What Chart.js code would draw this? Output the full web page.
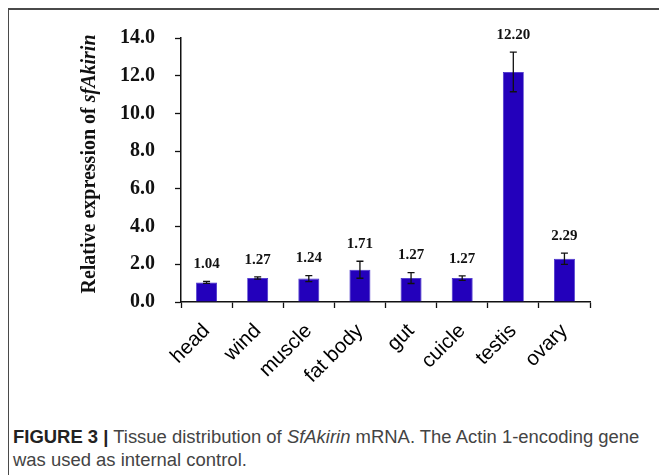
<!DOCTYPE html>
<html>
<head>
<meta charset="utf-8">
<script src="https://cdn.jsdelivr.net/npm/chart.js@4.4.1/dist/chart.umd.min.js"></script>
<style>
  html, body { margin: 0; padding: 0; background: #ffffff; }
  body { width: 659px; height: 475px; position: relative; overflow: hidden; }
  #frame {
    position: absolute; left: 8px; top: 8px; width: 660px; height: 480px;
    border-top: 2px solid #4a4a4a; border-left: 1.5px solid #4a4a4a;
    box-sizing: border-box;
  }
  #plot { position: absolute; left: 0; top: 0; width: 659px; height: 415px; }
  #caption {
    position: absolute; left: 13px; top: 425px;
    font-family: "Liberation Sans", Arial, sans-serif; font-size: 16px;
    line-height: 23px; color: #444; white-space: nowrap;
  }
  #caption b { color: #222; }
</style>
</head>
<body>
<div id="frame"></div>
<div id="plot"><canvas id="chart" width="659" height="415"></canvas></div>
<div id="caption"><span id="line1"><b>FIGURE 3 |</b> Tissue distribution of <i>SfAkirin</i> mRNA. The Actin 1-encoding gene</span><br>was used as internal control.</div>
<script>
// Tissues sampled
const categories = ['head', 'wind', 'muscle', 'fat body', 'gut', 'cuicle', 'testis', 'ovary'];
// Mean relative expression of sfAkirin per tissue
const expression = [1.04, 1.27, 1.24, 1.71, 1.27, 1.27, 12.20, 2.29];
// Standard error for each tissue
const errors = [0.05, 0.06, 0.16, 0.45, 0.29, 0.12, 1.05, 0.30];
// Y-axis tick values
const yTicks = [0, 2, 4, 6, 8, 10, 12, 14];

const serif = '"Liberation Serif", "Times New Roman", serif';

// Error bars and value labels above each bar
const errorBarPlugin = {
  id: 'errorBars',
  afterDatasetsDraw(chart) {
    const ctx = chart.ctx;
    const y = chart.scales.y;
    const meta = chart.getDatasetMeta(0);
    ctx.save();
    ctx.strokeStyle = '#111';
    ctx.lineWidth = 1.3;
    meta.data.forEach((bar, i) => {
      const v = expression[i], e = errors[i];
      const top = y.getPixelForValue(v + e);
      const bot = y.getPixelForValue(v - e);
      const cap = 3.5;
      ctx.beginPath();
      ctx.moveTo(bar.x, top); ctx.lineTo(bar.x, bot);
      ctx.moveTo(bar.x - cap, top); ctx.lineTo(bar.x + cap, top);
      ctx.moveTo(bar.x - cap, bot); ctx.lineTo(bar.x + cap, bot);
      ctx.stroke();
      ctx.fillStyle = '#111';
      ctx.font = 'bold 15px ' + serif;
      ctx.textAlign = 'center';
      ctx.textBaseline = 'middle';
      ctx.fillText(v.toFixed(2), bar.x, top - 17);
    });
    ctx.restore();
  }
};

// Y-axis title with the gene name in italics
const yTitlePlugin = {
  id: 'yTitle',
  afterDraw(chart) {
    const ctx = chart.ctx;
    const plain = 'Relative expression of ';
    const gene = 'sfAkirin';
    ctx.save();
    ctx.translate(90, 164);
    ctx.rotate(-Math.PI / 2);
    ctx.fillStyle = '#111';
    ctx.textBaseline = 'middle';
    ctx.textAlign = 'left';
    ctx.font = 'bold 20px ' + serif;
    const w1 = ctx.measureText(plain).width;
    ctx.font = 'italic bold 20px ' + serif;
    const w2 = ctx.measureText(gene).width;
    const start = -(w1 + w2) / 2;
    ctx.font = 'bold 20px ' + serif;
    ctx.fillText(plain, start, 0);
    ctx.font = 'italic bold 20px ' + serif;
    ctx.fillText(gene, start + w1, 0);
    ctx.restore();
  }
};

new Chart(document.getElementById('chart'), {
  type: 'bar',
  data: {
    labels: categories,
    datasets: [{
      data: expression,
      backgroundColor: '#2300bb',
      borderColor: '#3a22c8',
      borderWidth: 0.8,
      barPercentage: 0.41,
      categoryPercentage: 1.0
    }]
  },
  options: {
    responsive: false,
    animation: false,
    devicePixelRatio: 1,
    layout: { padding: { left: 81, top: 38, right: 69, bottom: 0 } },
    plugins: { legend: { display: false }, tooltip: { enabled: false } },
    scales: {
      x: {
        offset: true,
        grid: { display: true, offset: true, drawOnChartArea: false, tickLength: 6, color: '#111', tickWidth: 1.3 },
        border: { display: true, color: '#111', width: 1.5 },
        ticks: {
          color: '#000', minRotation: 45, maxRotation: 45, padding: 11,
          font: { family: '"Liberation Sans", Arial, sans-serif', size: 20.5 }
        },
        afterFit(s) { s.height = 113; s.paddingLeft = 0; s.paddingRight = 0; }
      },
      y: {
        min: 0, max: 14,
        afterBuildTicks(s) { s.ticks = yTicks.map(v => ({ value: v })); },
        grid: { display: true, drawOnChartArea: false, tickLength: 6, color: '#111', tickWidth: 1.3 },
        border: { display: true, color: '#111', width: 1.5 },
        ticks: {
          color: '#111', padding: 20,
          font: { family: serif, size: 20, weight: 'bold' },
          callback: v => Number(v).toFixed(1)
        },
        afterFit(s) { s.width = 100; s.paddingTop = 0; s.paddingBottom = 0; }
      }
    }
  },
  plugins: [errorBarPlugin, yTitlePlugin]
});

// Fit the first caption line to the figure width
const line1 = document.getElementById('line1');
const cap = document.getElementById('caption');
const w = line1.getBoundingClientRect().width;
cap.style.fontSize = (16 * 627 / w).toFixed(2) + 'px';
</script>
</body>
</html>
